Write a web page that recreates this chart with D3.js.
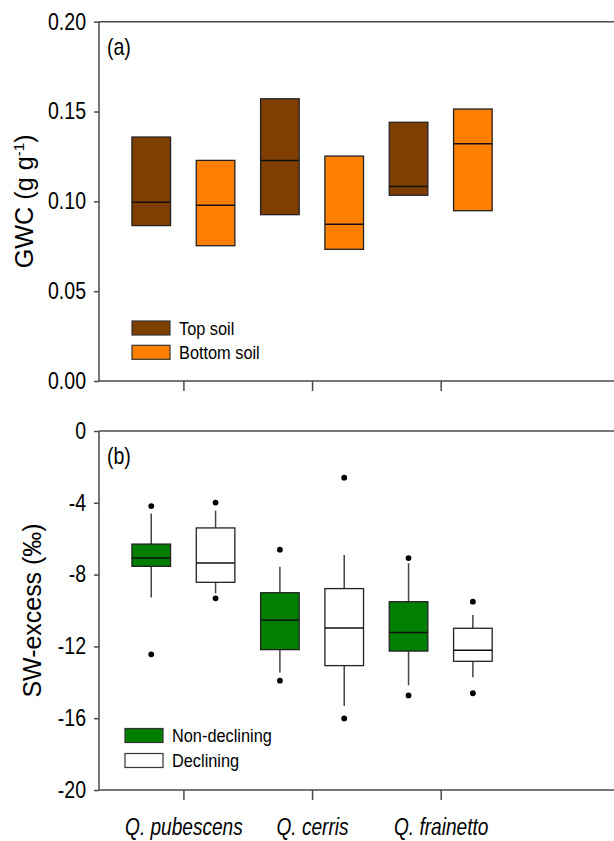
<!DOCTYPE html>
<html>
<head>
<meta charset="utf-8">
<script src="https://cdn.jsdelivr.net/npm/d3@7"></script>
<style>
  body { margin: 0; background: #fff; overflow: hidden; }
  svg { display: block; }
  text { font-family: "Liberation Sans", Arial, sans-serif; fill: #000; }
</style>
</head>
<body>
<svg width="614" height="841"></svg>
<script>
// categories
var species = ["Q. pubescens", "Q. cerris", "Q. frainetto"];
var groupPos = [1, 2, 3];

// panel (a) GWC, boxes only (q1 / median / q3)
var topSoilQ1 = [0.0865, 0.0926, 0.1034];
var topSoilMed = [0.0995, 0.1228, 0.1082];
var topSoilQ3 = [0.1358, 0.1571, 0.144];
var bottomSoilQ1 = [0.0753, 0.0733, 0.0948];
var bottomSoilMed = [0.0978, 0.0872, 0.1321];
var bottomSoilQ3 = [0.1228, 0.1252, 0.1514];
var gwcTicks = [0, 0.05, 0.1, 0.15, 0.2];

// panel (b) SW-excess
var nonDecWhiskLo = [-9.27, -13.46, -14.17];
var nonDecQ1 = [-7.54, -12.18, -12.26];
var nonDecMed = [-7.08, -10.55, -11.22];
var nonDecQ3 = [-6.3, -9.01, -9.51];
var nonDecWhiskHi = [-4.59, -7.56, -7.37];
var nonDecOutliers = [[-4.18, -12.44], [-6.61, -13.91], [-7.08, -14.73]];

var decWhiskLo = [-9.04, -15.32, -13.72];
var decQ1 = [-8.43, -13.07, -12.83];
var decMed = [-7.35, -10.97, -12.22];
var decQ3 = [-5.4, -8.78, -10.99];
var decWhiskHi = [-4.44, -6.91, -10.25];
var decOutliers = [[-3.99, -9.32], [-2.6, -16.01], [-9.51, -14.61]];
var swTicks = [-20, -16, -12, -8, -4, 0];

var svg = d3.select("svg");
var left = 99, right = 640, pageW = 614;
var squash = 0.85;

// shared x scale, the right edge of the frame runs off the page
var x = d3.scaleLinear().domain([0.344, 4.549]).range([left, right]);
var offset = 0.25, boxW = 0.3;

function buildSeries(q1, med, q3, lo, hi, out) {
  return groupPos.map(function (p, i) {
    return {
      pos: p,
      q1: q1[i], med: med[i], q3: q3[i],
      lo: lo ? lo[i] : null, hi: hi ? hi[i] : null,
      out: out ? out[i] : []
    };
  });
}

function drawPanel(cfg) {
  var y = d3.scaleLinear().domain(cfg.domain).range([cfg.bottom, cfg.top]);
  var g = svg.append("g");

  // y axis
  var yAxis = g.append("g")
    .attr("transform", "translate(" + left + ",0)")
    .call(d3.axisLeft(y).tickValues(cfg.ticks).tickSize(5).tickFormat(cfg.fmt));
  yAxis.select(".domain").remove();
  yAxis.selectAll("line").attr("stroke", "#4a4a4a").attr("stroke-width", 1.5);
  yAxis.selectAll("text")
    .attr("x", -13 / squash)
    .attr("transform", "scale(" + squash + ",1)")
    .style("font-size", "23px")
    .style("font-family", "'Liberation Sans', Arial, sans-serif");

  // x axis
  var xAxis = g.append("g")
    .attr("transform", "translate(0," + cfg.bottom + ")")
    .call(d3.axisBottom(x).tickValues(groupPos).tickSize(10).tickPadding(18.7)
      .tickFormat(function (d, i) { return cfg.labels ? species[i] : ""; }));
  xAxis.select(".domain").remove();
  xAxis.selectAll("line").attr("stroke", "#4a4a4a").attr("stroke-width", 1.5);
  xAxis.selectAll("text")
    .attr("transform", "scale(0.83,1)")
    .style("font-size", "23px")
    .style("font-style", "italic")
    .style("font-family", "'Liberation Sans', Arial, sans-serif");

  // frame: left, top and bottom edges (right edge is cut off by the page)
  var frame = g.append("g").attr("stroke", "#4a4a4a").attr("stroke-width", 1.5);
  frame.append("line").attr("x1", left).attr("x2", left).attr("y1", cfg.top).attr("y2", cfg.bottom);
  frame.append("line").attr("x1", left).attr("x2", pageW).attr("y1", cfg.top).attr("y2", cfg.top);
  frame.append("line").attr("x1", left).attr("x2", pageW).attr("y1", cfg.bottom).attr("y2", cfg.bottom);

  // panel letter
  g.append("text")
    .attr("transform", "translate(107," + (cfg.top + 33) + ") scale(" + squash + ",1)")
    .style("font-size", "23px")
    .text(cfg.letter);

  // y label
  var yl = g.append("text")
    .attr("transform", "translate(" + cfg.ylabX + "," + ((cfg.top + cfg.bottom) / 2) + ") rotate(-90)")
    .attr("text-anchor", "middle")
    .attr("textLength", cfg.ylabLen)
    .attr("lengthAdjust", "spacingAndGlyphs")
    .style("font-size", "25px");
  cfg.ylabel(yl);

  var bw = x(boxW) - x(0);

  cfg.series.forEach(function (s) {
    var sg = g.append("g");
    var cx = function (d) { return x(d.pos + s.off); };

    // whiskers
    if (s.whiskers) {
      sg.selectAll(".whisk").data(s.data).enter().append("line")
        .attr("x1", cx).attr("x2", cx)
        .attr("y1", function (d) { return y(d.hi); })
        .attr("y2", function (d) { return y(d.q3); })
        .attr("stroke", "#444").attr("stroke-width", 1.5);
      sg.selectAll(".whisk2").data(s.data).enter().append("line")
        .attr("x1", cx).attr("x2", cx)
        .attr("y1", function (d) { return y(d.q1); })
        .attr("y2", function (d) { return y(d.lo); })
        .attr("stroke", "#444").attr("stroke-width", 1.5);
    }

    sg.selectAll("rect").data(s.data).enter().append("rect")
      .attr("x", function (d) { return cx(d) - bw / 2; })
      .attr("y", function (d) { return y(d.q3); })
      .attr("width", bw)
      .attr("height", function (d) { return y(d.q1) - y(d.q3); })
      .attr("fill", s.color)
      .attr("stroke", "#222")
      .attr("stroke-width", 1.3);

    sg.selectAll(".med").data(s.data).enter().append("line")
      .attr("x1", function (d) { return cx(d) - bw / 2; })
      .attr("x2", function (d) { return cx(d) + bw / 2; })
      .attr("y1", function (d) { return y(d.med); })
      .attr("y2", function (d) { return y(d.med); })
      .attr("stroke", "#111").attr("stroke-width", 1.5);

    s.data.forEach(function (d) {
      sg.selectAll(null).data(d.out).enter().append("circle")
        .attr("cx", cx(d))
        .attr("cy", function (v) { return y(v); })
        .attr("r", 2.9)
        .attr("fill", "#000");
    });
  });

  // legend
  cfg.legend.forEach(function (l, i) {
    var ly = cfg.legY + i * cfg.legStep;
    g.append("rect")
      .attr("x", cfg.legX).attr("y", ly)
      .attr("width", 38).attr("height", 14)
      .attr("fill", l.color)
      .attr("stroke", "#333").attr("stroke-width", 1.2);
    g.append("text")
      .attr("transform", "translate(" + (cfg.legX + 47) + "," + (ly + 7) + ") scale(0.86,1)")
      .attr("dy", "0.35em")
      .style("font-size", "19px")
      .text(l.name);
  });
}

drawPanel({
  top: 21.7, bottom: 381, domain: [0, 0.2], ticks: gwcTicks,
  fmt: d3.format(".2f"), labels: false, letter: "(a)", ylabX: 33, ylabLen: 134,
  ylabel: function (t) {
    t.append("tspan").text("GWC (g g");
    t.append("tspan").attr("dy", -9).style("font-size", "15px").text("-1");
    t.append("tspan").attr("dy", 9).text(")");
  },
  series: [
    { off: -offset, color: "#7f3f00", whiskers: false,
      data: buildSeries(topSoilQ1, topSoilMed, topSoilQ3) },
    { off: offset, color: "#ff8000", whiskers: false,
      data: buildSeries(bottomSoilQ1, bottomSoilMed, bottomSoilQ3) }
  ],
  legend: [{ name: "Top soil", color: "#7f3f00" }, { name: "Bottom soil", color: "#ff8000" }],
  legX: 132, legY: 321, legStep: 24.3
});

drawPanel({
  top: 431, bottom: 790, domain: [-20, 0], ticks: swTicks,
  fmt: function (d) { return String(d); }, labels: true, letter: "(b)", ylabX: 41, ylabLen: 174,
  ylabel: function (t) { t.text("SW-excess (\u2030)"); },
  series: [
    { off: -offset, color: "#007f00", whiskers: true,
      data: buildSeries(nonDecQ1, nonDecMed, nonDecQ3, nonDecWhiskLo, nonDecWhiskHi, nonDecOutliers) },
    { off: offset, color: "#ffffff", whiskers: true,
      data: buildSeries(decQ1, decMed, decQ3, decWhiskLo, decWhiskHi, decOutliers) }
  ],
  legend: [{ name: "Non-declining", color: "#007f00" }, { name: "Declining", color: "#ffffff" }],
  legX: 125, legY: 728.5, legStep: 25
});
</script>
</body>
</html>
